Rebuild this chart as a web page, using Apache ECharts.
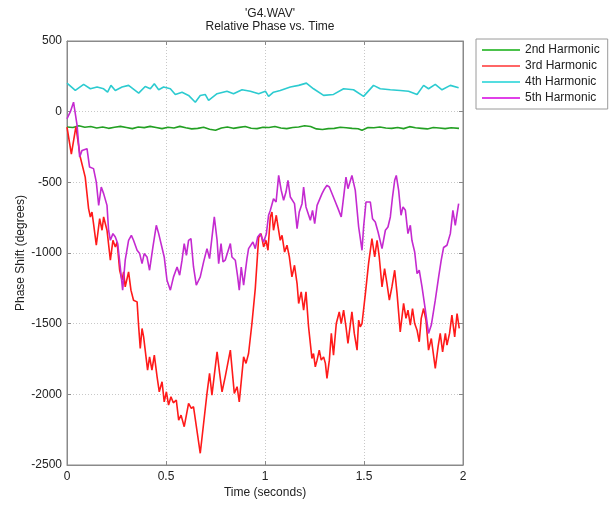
<!DOCTYPE html>
<html>
<head>
<meta charset="utf-8">
<title>Relative Phase vs. Time</title>
<script src="https://cdn.jsdelivr.net/npm/echarts@6/dist/echarts.min.js"></script>
<style>
  html, body { margin: 0; padding: 0; background: #ffffff; }
  #chart { width: 611px; height: 505px; }
</style>
</head>
<body>
<div id="chart"></div>
<script>
// Phase of each harmonic relative to the fundamental, G4.WAV
const seriesNames = ['2nd Harmonic', '3rd Harmonic', '4th Harmonic', '5th Harmonic'];
const xTickLabels = ['0', '0.5', '1', '1.5', '2'];
const yTickLabels = ['500', '0', '-500', '-1000', '-1500', '-2000', '-2500'];

const h2Time = [0, 0.03, 0.06, 0.09, 0.12, 0.15, 0.18, 0.21, 0.24, 0.27, 0.30, 0.33, 0.36, 0.39, 0.42, 0.45, 0.48, 0.51, 0.54, 0.57, 0.60, 0.63, 0.66, 0.69, 0.72, 0.75, 0.78, 0.81, 0.84, 0.87, 0.90, 0.93, 0.96, 0.99, 1.02, 1.05, 1.08, 1.11, 1.14, 1.17, 1.20, 1.21, 1.23, 1.26, 1.29, 1.32, 1.35, 1.38, 1.41, 1.44, 1.47, 1.49, 1.52, 1.55, 1.58, 1.61, 1.64, 1.67, 1.70, 1.73, 1.76, 1.79, 1.82, 1.85, 1.88, 1.91, 1.94, 1.98];
const h2Phase = [-108, -112, -100, -110, -105, -115, -108, -118, -110, -104, -112, -120, -108, -113, -104, -112, -120, -110, -116, -104, -114, -122, -118, -110, -124, -132, -115, -108, -118, -111, -105, -117, -120, -110, -112, -105, -115, -120, -112, -108, -100, -86, -105, -122, -126, -120, -118, -110, -114, -118, -121, -132, -112, -114, -108, -116, -118, -112, -120, -106, -114, -118, -122, -112, -116, -120, -114, -118];

const h3Time = [0, 0.022, 0.045, 0.067, 0.092, 0.109, 0.118, 0.126, 0.134, 0.148, 0.165, 0.177, 0.185, 0.202, 0.219, 0.232, 0.244, 0.253, 0.266, 0.278, 0.286, 0.294, 0.311, 0.323, 0.336, 0.354, 0.362, 0.370, 0.379, 0.387, 0.407, 0.417, 0.429, 0.441, 0.455, 0.466, 0.480, 0.491, 0.502, 0.513, 0.525, 0.537, 0.552, 0.564, 0.576, 0.592, 0.614, 0.628, 0.639, 0.673, 0.707, 0.720, 0.732, 0.758, 0.771, 0.783, 0.799, 0.825, 0.845, 0.859, 0.870, 0.892, 0.904, 0.917, 0.934, 0.951, 0.968, 0.980, 0.993, 1.005, 1.015, 1.027, 1.035, 1.043, 1.057, 1.066, 1.077, 1.086, 1.099, 1.111, 1.123, 1.136, 1.149, 1.162, 1.170, 1.183, 1.195, 1.207, 1.220, 1.237, 1.245, 1.254, 1.263, 1.274, 1.284, 1.296, 1.305, 1.313, 1.325, 1.335, 1.346, 1.360, 1.375, 1.385, 1.397, 1.409, 1.419, 1.439, 1.451, 1.465, 1.473, 1.481, 1.490, 1.507, 1.523, 1.540, 1.554, 1.566, 1.577, 1.591, 1.604, 1.616, 1.628, 1.641, 1.655, 1.667, 1.683, 1.700, 1.712, 1.722, 1.734, 1.745, 1.756, 1.768, 1.779, 1.789, 1.801, 1.813, 1.826, 1.840, 1.860, 1.874, 1.885, 1.897, 1.911, 1.919, 1.932, 1.944, 1.958, 1.970, 1.981];
const h3Phase = [-110, -300, -105, -321, -463, -686, -745, -710, -792, -945, -757, -839, -745, -839, -1051, -910, -957, -922, -1122, -1192, -1134, -1240, -1134, -1263, -1334, -1346, -1522, -1675, -1534, -1593, -1829, -1735, -1829, -1723, -1876, -1982, -1911, -2053, -1982, -2076, -2017, -2060, -2040, -2182, -2147, -2229, -2064, -2099, -2088, -2417, -1993, -1852, -2005, -1699, -1852, -1982, -1876, -1687, -1993, -1946, -2053, -1735, -1781, -1711, -1499, -1250, -890, -863, -957, -910, -981, -745, -710, -839, -733, -816, -910, -875, -993, -945, -1028, -1169, -1087, -1216, -1357, -1275, -1404, -1275, -1522, -1746, -1711, -1805, -1758, -1687, -1758, -1735, -1781, -1887, -1758, -1569, -1723, -1499, -1417, -1499, -1404, -1522, -1640, -1417, -1569, -1687, -1475, -1522, -1499, -1287, -1075, -898, -1028, -910, -1028, -1240, -1110, -1216, -1334, -1240, -1122, -1287, -1558, -1357, -1463, -1404, -1510, -1393, -1499, -1546, -1628, -1463, -1393, -1475, -1687, -1605, -1817, -1664, -1569, -1699, -1569, -1652, -1569, -1440, -1593, -1428, -1534];

const h4Time = [0, 0.042, 0.084, 0.118, 0.152, 0.185, 0.205, 0.222, 0.244, 0.278, 0.311, 0.362, 0.395, 0.421, 0.441, 0.463, 0.488, 0.522, 0.547, 0.581, 0.614, 0.648, 0.673, 0.698, 0.715, 0.758, 0.808, 0.841, 0.884, 0.926, 0.968, 1.002, 1.018, 1.043, 1.077, 1.128, 1.170, 1.209, 1.245, 1.296, 1.346, 1.397, 1.447, 1.498, 1.548, 1.582, 1.633, 1.683, 1.725, 1.768, 1.801, 1.826, 1.860, 1.894, 1.936, 1.978];
const h4Phase = [202, 150, 193, 162, 174, 162, 138, 186, 150, 174, 186, 131, 178, 162, 197, 155, 174, 162, 122, 138, 115, 67, 115, 122, 80, 127, 145, 127, 155, 145, 127, 145, 108, 138, 150, 174, 186, 202, 162, 115, 122, 162, 155, 108, 186, 162, 155, 150, 145, 122, 186, 162, 193, 155, 186, 169];

const h5Time = [0, 0.017, 0.033, 0.051, 0.064, 0.076, 0.084, 0.101, 0.114, 0.134, 0.148, 0.160, 0.173, 0.185, 0.202, 0.210, 0.219, 0.232, 0.244, 0.256, 0.269, 0.281, 0.294, 0.311, 0.325, 0.336, 0.354, 0.367, 0.379, 0.390, 0.404, 0.417, 0.434, 0.451, 0.463, 0.471, 0.491, 0.505, 0.522, 0.538, 0.556, 0.569, 0.581, 0.592, 0.603, 0.614, 0.626, 0.639, 0.653, 0.673, 0.690, 0.707, 0.720, 0.744, 0.758, 0.766, 0.778, 0.788, 0.799, 0.825, 0.833, 0.850, 0.862, 0.870, 0.880, 0.892, 0.909, 0.917, 0.926, 0.939, 0.951, 0.963, 0.976, 0.993, 1.007, 1.018, 1.027, 1.043, 1.056, 1.069, 1.082, 1.094, 1.106, 1.116, 1.128, 1.149, 1.162, 1.173, 1.187, 1.195, 1.207, 1.229, 1.240, 1.251, 1.263, 1.288, 1.301, 1.313, 1.325, 1.352, 1.369, 1.385, 1.397, 1.409, 1.419, 1.439, 1.456, 1.473, 1.490, 1.498, 1.510, 1.532, 1.543, 1.557, 1.571, 1.591, 1.608, 1.621, 1.633, 1.644, 1.655, 1.663, 1.675, 1.687, 1.697, 1.709, 1.722, 1.734, 1.742, 1.756, 1.768, 1.779, 1.793, 1.810, 1.826, 1.840, 1.860, 1.877, 1.890, 1.902, 1.919, 1.936, 1.949, 1.961, 1.978];
const h5Phase = [-50, 0, 67, -97, -321, -274, -262, -262, -392, -403, -498, -663, -533, -580, -663, -839, -910, -863, -887, -933, -1099, -1263, -1051, -910, -875, -910, -981, -1004, -1075, -1004, -1028, -1122, -957, -804, -863, -851, -1028, -1193, -1263, -1169, -1099, -1157, -1051, -933, -1016, -910, -898, -1099, -1228, -1169, -1063, -969, -1040, -745, -910, -1075, -933, -1063, -1051, -933, -1028, -1051, -1169, -1263, -1099, -1228, -1040, -969, -981, -922, -969, -887, -863, -922, -863, -733, -698, -616, -639, -451, -557, -627, -569, -486, -604, -651, -827, -710, -651, -533, -674, -769, -698, -792, -663, -580, -545, -521, -533, -627, -686, -745, -604, -463, -545, -451, -557, -816, -981, -816, -639, -639, -757, -781, -851, -969, -839, -816, -745, -604, -486, -451, -557, -733, -674, -698, -863, -804, -910, -993, -1146, -1122, -1240, -1404, -1569, -1510, -1334, -1169, -1051, -961, -945, -863, -698, -804, -651];

const lineColors = ['#23a023', '#ff1a1a', '#2ccbd0', '#c42ad0'];
const legendColors = ['#4cc24c', '#ff6666', '#55dde0', '#e040e8'];

function pairs(ts, vs) {
  return ts.map((t, i) => [t, vs[i]]);
}

const seriesData = [
  pairs(h2Time, h2Phase),
  pairs(h3Time, h3Phase),
  pairs(h4Time, h4Phase),
  pairs(h5Time, h5Phase)
];

const FONT = '"Liberation Sans", Arial, sans-serif';
const axisGray = '#8a8a8a';
const textDark = '#222222';

const chart = echarts.init(document.getElementById('chart'), null, { renderer: 'canvas' });

const baseX = { type: 'value', min: 0, max: 2, interval: 0.5 };
const baseY = { type: 'value', min: -2500, max: 500, interval: 500 };
const boxLine = { show: true, onZero: false, lineStyle: { color: axisGray } };
const inTick = { show: true, inside: true, length: 4, lineStyle: { color: axisGray } };
const gridLine = { show: true, lineStyle: { color: '#c8c8c8', type: [1, 2], width: 1 } };

chart.setOption({
  backgroundColor: '#ffffff',
  animation: false,
  title: {
    text: "'G4.WAV'\nRelative Phase vs. Time",
    left: 265,
    top: 2,
    textAlign: 'center',
    textStyle: {
      fontFamily: FONT, fontSize: 12, fontWeight: 'normal', color: textDark, lineHeight: 13
    }
  },
  legend: {
    orient: 'vertical',
    left: 476,
    top: 39,
    width: 131,
    padding: [5, 8, 5, 6],
    itemGap: 4,
    itemWidth: 38,
    itemHeight: 2,
    icon: 'rect',
    backgroundColor: '#ffffff',
    borderColor: '#9a9a9a',
    borderWidth: 1,
    textStyle: { fontFamily: FONT, fontSize: 12, color: textDark, padding: [0, 0, 0, 0] },
    data: seriesNames.map((n, i) => ({ name: n, itemStyle: { color: legendColors[i] } }))
  },
  grid: {
    left: 67, right: 148, top: 41, bottom: 40,
    show: true, borderColor: axisGray, borderWidth: 1, backgroundColor: '#ffffff'
  },
  xAxis: [
    Object.assign({}, baseX, {
      position: 'bottom',
      name: 'Time (seconds)',
      nameLocation: 'middle',
      nameGap: 22,
      nameMoveOverlap: false,
      nameTextStyle: { fontFamily: FONT, fontSize: 12, color: textDark },
      axisLine: boxLine,
      axisTick: inTick,
      axisLabel: {
        fontFamily: FONT, fontSize: 12, color: textDark, margin: 6,
        formatter: (v) => xTickLabels[Math.round(v / 0.5)]
      },
      splitLine: gridLine
    }),
    Object.assign({}, baseX, {
      position: 'top',
      axisLine: boxLine,
      axisTick: inTick,
      axisLabel: { show: false },
      splitLine: { show: false }
    })
  ],
  yAxis: [
    Object.assign({}, baseY, {
      position: 'left',
      name: 'Phase Shift (degrees)',
      nameLocation: 'middle',
      nameGap: 40,
      nameMoveOverlap: false,
      nameTextStyle: { fontFamily: FONT, fontSize: 12, color: textDark },
      axisLine: boxLine,
      axisTick: inTick,
      axisLabel: {
        fontFamily: FONT, fontSize: 12, color: textDark, margin: 5,
        formatter: (v) => yTickLabels[Math.round((500 - v) / 500)]
      },
      splitLine: gridLine
    }),
    Object.assign({}, baseY, {
      position: 'right',
      axisLine: boxLine,
      axisTick: inTick,
      axisLabel: { show: false },
      splitLine: { show: false }
    })
  ],
  series: seriesNames.map((name, i) => ({
    name: name,
    type: 'line',
    xAxisIndex: 0,
    yAxisIndex: 0,
    data: seriesData[i],
    showSymbol: false,
    symbol: 'none',
    smooth: false,
    color: lineColors[i],
    lineStyle: { color: lineColors[i], width: 1.6 },
    emphasis: { disabled: true }
  }))
});
</script>
</body>
</html>
